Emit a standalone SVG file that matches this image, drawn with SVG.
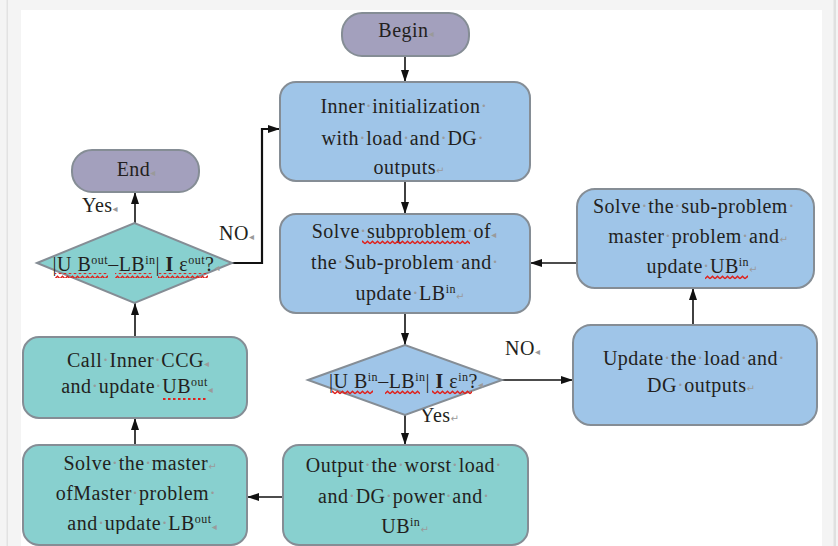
<svg xmlns="http://www.w3.org/2000/svg" width="838" height="546" viewBox="0 0 838 546">
<style>
.t{font-family:"Liberation Serif","Times New Roman",serif;font-size:20px;fill:#231f20;text-anchor:middle;letter-spacing:0.5px}
.l{font-family:"Liberation Serif","Times New Roman",serif;font-size:20px;fill:#231f20;letter-spacing:0.5px}
.m{fill:#9a9a9a}
.k{font-family:"DejaVu Sans",sans-serif;font-size:10px;fill:#9a9a9a;letter-spacing:0}
.s{font-size:12px}
.b{font-weight:bold}
.blue{fill:#9fc5e8;stroke:#858d95;stroke-width:2}
.teal{fill:#88d0cf;stroke:#858d95;stroke-width:2}
.pur{fill:#a3a0bd;stroke:#858d95;stroke-width:2}
.c{stroke:#111;stroke-width:1.6;fill:none;marker-end:url(#a)}
.w{fill:url(#wave)}
</style>
<defs>
<marker id="a" markerWidth="12" markerHeight="8" refX="12" refY="4" orient="auto" markerUnits="userSpaceOnUse"><path d="M0,0 L12,4 L0,8 z" fill="#111"/></marker>
<pattern id="wave" patternUnits="userSpaceOnUse" width="5" height="5"><path d="M0,3.8 L2.5,1.2 L5,3.8" stroke="#e0201b" stroke-width="1.4" fill="none"/></pattern>
<clipPath id="cpInit"><rect x="280" y="82" width="250" height="95"/></clipPath>
<clipPath id="cpMaster"><rect x="23" y="445" width="224" height="89"/></clipPath>
</defs>
<rect width="838" height="546" fill="#f4f4f4"/>
<rect x="6.5" y="0" width="1.5" height="546" fill="#e2e2e2"/>
<rect x="833.5" y="0" width="2.5" height="546" fill="#e0e0e0"/>
<rect x="21" y="10" width="801" height="536" fill="#ffffff"/>

<g id="connectors">
<path class="c" d="M405,56 V82"/>
<path class="c" d="M405,181 V214"/>
<path class="c" d="M405,313 V345"/>
<path class="c" d="M405,415 V445"/>
<path class="c" d="M502,380 H573"/>
<path class="c" d="M693,325 V288"/>
<path class="c" d="M577,263 H530"/>
<path class="c" d="M283,497 H247"/>
<path class="c" d="M135,445 V418"/>
<path class="c" d="M135,337 V303"/>
<path class="c" d="M135,223 V192"/>
<path class="c" style="stroke-width:2.2" d="M232,263 H262 V129 H280"/>
<text class="l" x="82" y="212">Yes<tspan class="k">◂</tspan></text>
<text class="l" x="219" y="240">NO<tspan class="k">◂</tspan></text>
<text class="l" x="505" y="355">NO<tspan class="k">◂</tspan></text>
<text class="l" x="420" y="422">Yes<tspan class="k">↵</tspan></text>
</g>

<g id="begin">
<rect class="pur" x="342" y="13" width="127" height="43" rx="20"/>
<text class="t" x="406" y="37">Begin<tspan class="k">◂</tspan></text>
</g>

<g id="init">
<rect class="blue" x="280" y="82" width="250" height="99" rx="16"/>
<g clip-path="url(#cpInit)">
<text class="t" x="404" y="113">Inner<tspan class="m">·</tspan>initialization<tspan class="m">·</tspan></text>
<text class="t" x="403" y="145">with<tspan class="m">·</tspan>load<tspan class="m">·</tspan>and<tspan class="m">·</tspan>DG<tspan class="m">·</tspan></text>
<text class="t" x="409" y="174">outputs<tspan class="k">↵</tspan></text>
</g>
</g>

<g id="subproblem">
<rect class="blue" x="280" y="214" width="250" height="99" rx="16"/>
<text class="t" x="404" y="238">Solve<tspan class="m">·</tspan>subproblem<tspan class="m">·</tspan>of<tspan class="k">◂</tspan></text>
<text class="t" x="405" y="269">the<tspan class="m">·</tspan>Sub-problem<tspan class="m">·</tspan>and<tspan class="m">·</tspan></text>
<text class="t" x="410" y="300">update<tspan class="m">·</tspan>LB<tspan class="s" dy="-7">in</tspan><tspan class="k" dy="7">↵</tspan></text>
<rect class="w" x="362" y="240" width="108" height="5"/>
</g>

<g id="check_inner">
<polygon class="blue" points="308,380 405,345 502,380 405,415"/>
<text class="t" x="406" y="388">|U B<tspan class="s" dy="-7">in</tspan><tspan dy="7">–LB</tspan><tspan class="s" dy="-7">in</tspan><tspan dy="7">| </tspan><tspan class="b">I</tspan><tspan> ε</tspan><tspan class="s" dy="-7">in</tspan><tspan dy="7">?</tspan><tspan class="k">◂</tspan></text>
<rect class="w" x="332" y="390" width="41" height="5"/>
<rect class="w" x="385" y="390" width="35" height="5"/>
<rect class="w" x="432" y="390" width="40" height="5"/>
</g>

<g id="update_load">
<rect class="blue" x="573" y="325" width="244" height="100" rx="18"/>
<text class="t" x="694" y="365">Update<tspan class="m">·</tspan>the<tspan class="m">·</tspan>load<tspan class="m">·</tspan>and<tspan class="m">·</tspan></text>
<text class="t" x="701" y="392">DG<tspan class="m">·</tspan>outputs<tspan class="k">↵</tspan></text>
</g>

<g id="solve_sub_master">
<rect class="blue" x="577" y="189" width="237" height="99" rx="18"/>
<text class="t" x="694" y="213">Solve<tspan class="m">·</tspan>the<tspan class="m">·</tspan>sub-problem<tspan class="m">·</tspan></text>
<text class="t" x="698" y="243">master<tspan class="m">·</tspan>problem<tspan class="m">·</tspan>and<tspan class="k">↵</tspan></text>
<text class="t" x="702" y="273">update<tspan class="m">·</tspan>UB<tspan class="s" dy="-7">in</tspan><tspan class="k" dy="7">↵</tspan></text>
<rect class="w" x="705" y="275" width="43" height="5"/>
</g>

<g id="output_worst">
<rect class="teal" x="283" y="445" width="245" height="100" rx="16"/>
<text class="t" x="404" y="472">Output<tspan class="m">·</tspan>the<tspan class="m">·</tspan>worst<tspan class="m">·</tspan>load<tspan class="m">·</tspan></text>
<text class="t" x="404" y="503">and<tspan class="m">·</tspan>DG<tspan class="m">·</tspan>power<tspan class="m">·</tspan>and<tspan class="m">·</tspan></text>
<text class="t" x="405" y="533">UB<tspan class="s" dy="-7">in</tspan><tspan class="k" dy="7">↵</tspan></text>
</g>

<g id="solve_master">
<rect class="teal" x="23" y="445" width="224" height="100" rx="16"/>
<g clip-path="url(#cpMaster)">
<text class="t" x="140" y="470">Solve<tspan class="m">·</tspan>the<tspan class="m">·</tspan>master<tspan class="k">↵</tspan></text>
<text class="t" x="136" y="500">ofMaster<tspan class="m">·</tspan>problem<tspan class="m">·</tspan></text>
<text class="t" x="142" y="530">and<tspan class="m">·</tspan>update<tspan class="m">·</tspan>LB<tspan class="s" dy="-7">out</tspan><tspan class="k" dy="7">◂</tspan></text>
</g>
</g>

<g id="call_inner">
<rect class="teal" x="23" y="337" width="224" height="81" rx="16"/>
<text class="t" x="138" y="367">Call<tspan class="m">·</tspan>Inner<tspan class="m">·</tspan>CCG<tspan class="k">◂</tspan></text>
<text class="t" x="137" y="393">and<tspan class="m">·</tspan>update<tspan class="m">·</tspan>UB<tspan class="s" dy="-7">out</tspan><tspan class="k" dy="7">◂</tspan></text>
<path d="M163,399 H207" stroke="#e0201b" stroke-width="2" stroke-dasharray="2.5,2.5"/>
</g>

<g id="check_outer">
<polygon class="teal" points="37,263 134.5,223 232,263 134.5,303"/>
<text class="t" x="136" y="271">|U B<tspan class="s" dy="-7">out</tspan><tspan dy="7">–LB</tspan><tspan class="s" dy="-7">in</tspan><tspan dy="7">| </tspan><tspan class="b">I</tspan><tspan> ε</tspan><tspan class="s" dy="-7">out</tspan><tspan dy="7">?</tspan><tspan class="k">◂</tspan></text>
<rect class="w" x="55" y="273" width="53" height="5"/>
<rect class="w" x="115" y="273" width="37" height="5"/>
<rect class="w" x="158" y="273" width="50" height="5"/>
</g>

<g id="end">
<rect class="pur" x="72" y="150" width="127" height="42" rx="20"/>
<text class="t" x="136" y="176">End<tspan class="k">◂</tspan></text>
</g>
</svg>
